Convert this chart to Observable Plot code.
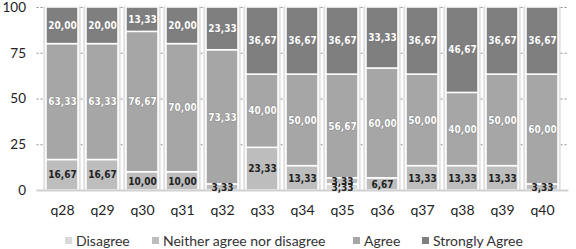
<!DOCTYPE html>
<html>
<head>
<meta charset="utf-8">
<script src="https://cdn.jsdelivr.net/npm/d3@7"></script>
<script src="https://cdn.jsdelivr.net/npm/@observablehq/plot@0.6"></script>
<style>
  html, body { margin: 0; padding: 0; background: #fff; }
  #chart { width: 576px; height: 249px; position: relative; overflow: hidden; }
  .legend { position: absolute; left: 0; top: 231px; width: 576px; height: 18px; font-family: Lato, sans-serif; font-size: 14px; color: #333; }
  .item { position: absolute; top: 1px; display: flex; align-items: center; white-space: nowrap; }
  .sw { width: 7px; height: 7px; margin-right: 4px; display: inline-block; }
</style>
</head>
<body>
<div id="chart"></div>
<script>
const questions = ["q28","q29","q30","q31","q32","q33","q34","q35","q36","q37","q38","q39","q40"];
const categories = ["Disagree","Neither agree nor disagree","Agree","Strongly Agree"];
const colors = ["#d9d9d9","#bdbdbd","#a6a6a6","#7f7f7f"];
const disagree = [0,0,0,0,0,0,0,3.33,0,0,0,0,0];
const neither  = [16.67,16.67,10,10,3.33,23.33,13.33,3.33,6.67,13.33,13.33,13.33,3.33];
const agree    = [63.33,63.33,76.67,70,73.33,40,50,56.67,60,50,40,50,60];
const strongly = [20,20,13.33,20,23.33,36.67,36.67,36.67,33.33,36.67,46.67,36.67,36.67];
const yTicks = [0,25,50,75,100];
const legendX = [65,152,353,422];

const series = [disagree, neither, agree, strongly];
const rows = [];
questions.forEach((q, i) => {
  categories.forEach((c, j) => rows.push({q, cat: c, value: series[j][i]}));
});
const totals = questions.map((q, i) => ({q, total: series.reduce((s, a) => s + a[i], 0)}));
const fmt = v => v.toFixed(2).replace(".", ",");
const lightCats = new Set(["Disagree","Neither agree nor disagree"]);

const stackOpts = {x: "q", y: "value", z: "cat", order: categories};

const chart = Plot.plot({
  width: 576,
  height: 231,
  marginLeft: 36.5,
  marginRight: 7.5,
  marginTop: 7,
  marginBottom: 41,
  style: {fontFamily: "Lato, sans-serif", fontSize: "14px", color: "#222", background: "#fff"},
  x: {domain: questions, padding: 0.19, label: null, tickSize: 0, tickPadding: 15},
  y: {domain: [0, 100], ticks: yTicks, label: null, tickSize: 0, tickPadding: 11},
  color: {domain: categories, range: colors},
  marks: [
    Plot.ruleY(yTicks.filter(d => d > 0), {stroke: "#8c8c8c", strokeDasharray: "2,2"}),
    Plot.barY(totals, {x: "q", y: "total", fill: "#ebebeb", stroke: "#d4d4d4", insetLeft: -2, insetRight: -2}),
    Plot.barY(rows, Plot.stackY({...stackOpts, fill: "cat", stroke: "white", strokeWidth: 1.5})),
    Plot.ruleY([0], {stroke: "#d0d0d0", strokeWidth: 2}),
    Plot.text(rows, Plot.stackY({...stackOpts,
      text: d => (d.value > 0 && lightCats.has(d.cat)) ? fmt(d.value) : "",
      fill: "#222", fontWeight: "bold", fontSize: 10, fontFamily: "DejaVu Sans Condensed, DejaVu Sans"})),
    Plot.text(rows, Plot.stackY({...stackOpts,
      text: d => (d.value > 0 && !lightCats.has(d.cat)) ? fmt(d.value) : "",
      fill: "white", stroke: "#6a6a6a", strokeWidth: 0.6, paintOrder: "stroke",
      fontWeight: "bold", fontSize: 10, fontFamily: "DejaVu Sans Condensed, DejaVu Sans"}))
  ]
});
d3.select(chart).selectAll("g[aria-label='y-axis tick label'] text").style("font-size", "13.5px");
const root = document.getElementById("chart");
root.appendChild(chart);

const legend = document.createElement("div");
legend.className = "legend";
categories.forEach((c, i) => {
  const it = document.createElement("div");
  it.className = "item";
  it.style.left = legendX[i] + "px";
  it.innerHTML = `<span class="sw" style="background:${colors[i]}"></span><span>${c}</span>`;
  legend.appendChild(it);
});
root.appendChild(legend);
</script>
</body>
</html>
